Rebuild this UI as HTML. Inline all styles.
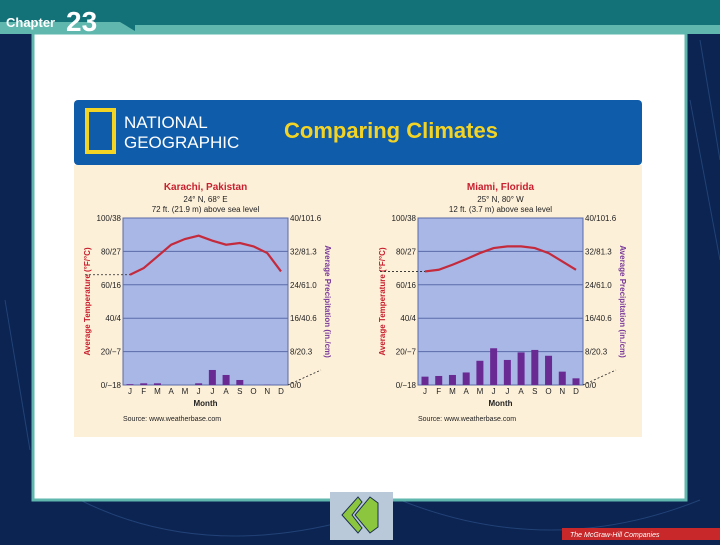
<!DOCTYPE html>
<html><head><meta charset="utf-8"><style>
body{margin:0;width:720px;height:540px;overflow:hidden;background:#0b2452;font-family:"Liberation Sans",sans-serif}
svg text{font-family:"Liberation Sans",sans-serif}
</style></head><body>
<svg width="720" height="540" viewBox="0 0 720 540">
<rect x="0" y="0" width="720" height="540" fill="#0b2452"/>
<g stroke="#2c4f86" stroke-width="1" fill="none" opacity="0.7">
<path d="M80 500 Q200 560 350 520"/><path d="M400 500 Q550 560 700 500"/><path d="M690 100 L720 260"/><path d="M700 40 L720 160"/><path d="M5 300 L30 450"/>
</g>
<rect x="0" y="0" width="720" height="32" fill="#137178"/>
<rect x="135" y="25" width="585" height="9" fill="#5fb7ae"/>
<path d="M0 22 L120 22 L140 34 L0 34Z" fill="#5fb7ae"/>
<text x="6" y="27" font-size="13" font-weight="bold" fill="#fff">Chapter</text>
<text x="66" y="31" font-size="28" font-weight="bold" fill="#fff">23</text>
<rect x="33" y="33" width="653" height="467" fill="#fff" stroke="#5fb7ae" stroke-width="3"/>
<rect x="74" y="100" width="568" height="65" rx="4" fill="#0f5cab"/>
<rect x="87" y="110" width="27" height="42" fill="none" stroke="#f3d324" stroke-width="4"/>
<text x="124" y="128" font-size="17" fill="#fff">NATIONAL</text>
<text x="124" y="148" font-size="17" fill="#fff">GEOGRAPHIC</text>
<text x="284" y="138" font-size="22" font-weight="bold" fill="#f3d324">Comparing Climates</text>
<rect x="74" y="165" width="568" height="272" fill="#fdf0d9"/>
<g id="c1"></g><g id="c2"></g>
<rect x="330" y="492" width="63" height="48" fill="#b9c9d9"/>
<path d="M342 515 L358 497 L362 502 L352 515 L362 528 L358 533Z M355 515 L370 497 L378 503 L378 527 L370 533Z" fill="#8cc63f" stroke="#1a3050"/>
<rect x="562" y="528" width="158" height="12" fill="#c8282a"/>
<text x="570" y="537" font-size="7" font-style="italic" fill="#fff">The McGraw-Hill Companies</text>
</svg>
<script>
const months=["J","F","M","A","M","J","J","A","S","O","N","D"];
const tempTicks=["0/−18","20/−7","40/4","60/16","80/27","100/38"];
const precipTicks=["0/0","8/20.3","16/40.6","24/61.0","32/81.3","40/101.6"];
const karachiTemp=[66,70,77,84,87.4,89.4,86.4,84,85,83,79,68];
const karachiPrecip=[0.2,0.4,0.4,0,0,0.4,3.6,2.4,1.2,0,0.05,0];
const miamiTemp=[68,69,72,75.4,79,82,83,83,82,79,74,69];
const miamiPrecip=[2,2.16,2.4,3,5.8,8.8,6,7.8,8.4,7,3.2,1.6];
const NS="http://www.w3.org/2000/svg";
function mk(p,t,a,txt){const e=document.createElementNS(NS,t);for(const k in a)e.setAttribute(k,a[k]);if(txt!==undefined)e.textContent=txt;p.appendChild(e);return e;}
function chart(g,x0,title,l1,l2,temp,precip,key){
 const x1=x0+165,yT=218,yB=385;
 const xs=i=>x0+7+i*(151/11);
 const yt=v=>yB-(v/100)*(yB-yT);
 const yp=v=>yB-(v/40)*(yB-yT);
 const cx=(x0+x1)/2;
 let e;
 e=mk(g,"text",{x:cx,y:190,"font-size":10,"font-weight":"bold",fill:"#c8202f","text-anchor":"middle"},title);
 
 e=mk(g,"text",{x:cx,y:202,"font-size":8,fill:"#222","text-anchor":"middle"},l1);
 
 e=mk(g,"text",{x:cx,y:212,"font-size":8,fill:"#222","text-anchor":"middle"},l2);
 
 e=mk(g,"rect",{x:x0,y:yT,width:165,height:yB-yT,fill:"#a8b7e6",stroke:"#5a6ba8","stroke-width":1});
 
 tempTicks.forEach((t,i)=>{const y=yB-i*(yB-yT)/5;
  e=mk(g,"line",{x1:x0,x2:x1,y1:y,y2:y,stroke:"#5a6ba8","stroke-width":1});
  
  e=mk(g,"text",{x:x0-2,y:y+3,"font-size":8,fill:"#222","text-anchor":"end"},t);
  
  e=mk(g,"text",{x:x1+2,y:y+3,"font-size":8,fill:"#222"},precipTicks[i]);
  
 });
 precip.forEach((v,i)=>{const h=yB-yp(v);
  e=mk(g,"rect",{x:xs(i)-3.5,y:yp(v),width:7,height:h,fill:"#6a2a94"});
  
 });
 e=mk(g,"polyline",{points:temp.map((v,i)=>xs(i)+","+yt(v)).join(" "),fill:"none",stroke:"#c42a3c","stroke-width":2.2});
 
 months.forEach((m,i)=>{e=mk(g,"text",{x:xs(i),y:yB+9,"font-size":8,fill:"#222","text-anchor":"middle"},m);
  });
 e=mk(g,"text",{x:cx,y:406,"font-size":8,"font-weight":"bold",fill:"#222","text-anchor":"middle"},"Month");
 
 e=mk(g,"text",{x:x0,y:421,"font-size":7,fill:"#222"},"Source: www.weatherbase.com");
 
 e=mk(g,"text",{x:0,y:0,"font-size":8,"font-weight":"bold",fill:"#c8202f","text-anchor":"middle",transform:`translate(${x0-33},${(yT+yB)/2}) rotate(-90)`},"Average Temperature (°F/°C)");
 
 e=mk(g,"text",{x:0,y:0,"font-size":8,"font-weight":"bold",fill:"#7a3a9a","text-anchor":"middle",transform:`translate(${x1+37},${(yT+yB)/2}) rotate(90)`},"Average Precipitation (in./cm)");
 
 e=mk(g,"line",{x1:x0-38,x2:xs(0),y1:yt(temp[0]),y2:yt(temp[0]),stroke:"#222","stroke-dasharray":"2,2","stroke-width":0.8});
 
 e=mk(g,"line",{x1:x1,x2:x1+33,y1:yB,y2:yB-15,stroke:"#222","stroke-dasharray":"2,2","stroke-width":0.8});
 
}
chart(document.getElementById("c1"),123,"Karachi, Pakistan","24° N, 68° E","72 ft. (21.9 m) above sea level",karachiTemp,karachiPrecip,"karachi");
chart(document.getElementById("c2"),418,"Miami, Florida","25° N, 80° W","12 ft. (3.7 m) above sea level",miamiTemp,miamiPrecip,"miami");
</script>
</body></html>
